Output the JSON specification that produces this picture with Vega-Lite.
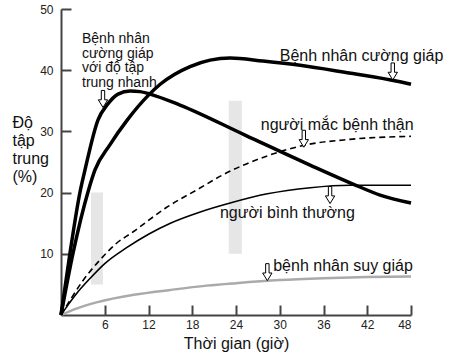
{
  "$schema": "https://vega.github.io/schema/vega-lite/v6.json",
  "width": 350,
  "height": 306,
  "autosize": "none",
  "padding": {"left": 61, "top": 9, "right": 46, "bottom": 45},
  "background": "white",
  "config": {
    "font": "Liberation Sans",
    "view": {"stroke": null},
    "axis": {"grid": false}
  },
  "datasets": {
    "curves": [
      {"series": "A", "t": 0, "v": 0},
      {"series": "A", "t": 1.23, "v": 10.1},
      {"series": "A", "t": 2.61, "v": 20.1},
      {"series": "A", "t": 3.29, "v": 23.7},
      {"series": "A", "t": 5.08, "v": 31.9},
      {"series": "A", "t": 6.31, "v": 34.3},
      {"series": "A", "t": 7.82, "v": 36.1},
      {"series": "A", "t": 9.47, "v": 36.6},
      {"series": "A", "t": 10.84, "v": 36.5},
      {"series": "A", "t": 12.21, "v": 36.1},
      {"series": "A", "t": 16.32, "v": 34.3},
      {"series": "A", "t": 25.24, "v": 29.4},
      {"series": "A", "t": 34.16, "v": 24.5},
      {"series": "A", "t": 40.05, "v": 21.4},
      {"series": "A", "t": 43.76, "v": 19.6},
      {"series": "A", "t": 48, "v": 18.3},
      {"series": "B", "t": 0, "v": 0},
      {"series": "B", "t": 1.65, "v": 10.1},
      {"series": "B", "t": 3.7, "v": 20.1},
      {"series": "B", "t": 4.66, "v": 23.7},
      {"series": "B", "t": 6.7, "v": 27.8},
      {"series": "B", "t": 9.05, "v": 31.8},
      {"series": "B", "t": 11.9, "v": 35.8},
      {"series": "B", "t": 13.6, "v": 37.7},
      {"series": "B", "t": 17.7, "v": 40.6},
      {"series": "B", "t": 23.2, "v": 42.0},
      {"series": "B", "t": 27.7, "v": 41.5},
      {"series": "B", "t": 32.8, "v": 40.8},
      {"series": "B", "t": 38.7, "v": 39.7},
      {"series": "B", "t": 46.5, "v": 38.1},
      {"series": "B", "t": 48, "v": 37.7},
      {"series": "C", "t": 0, "v": 0},
      {"series": "C", "t": 1.5, "v": 2.9},
      {"series": "C", "t": 3.0, "v": 5.6},
      {"series": "C", "t": 5.35, "v": 9.0},
      {"series": "C", "t": 7.5, "v": 11.6},
      {"series": "C", "t": 9.9, "v": 13.6},
      {"series": "C", "t": 14.5, "v": 17.6},
      {"series": "C", "t": 19.0, "v": 20.7},
      {"series": "C", "t": 22.2, "v": 22.9},
      {"series": "C", "t": 28.3, "v": 26.0},
      {"series": "C", "t": 33.2, "v": 27.7},
      {"series": "C", "t": 39.6, "v": 28.7},
      {"series": "C", "t": 48, "v": 29.2},
      {"series": "D", "t": 0, "v": 0},
      {"series": "D", "t": 1.0, "v": 1.7},
      {"series": "D", "t": 2.2, "v": 3.6},
      {"series": "D", "t": 4.0, "v": 6.0},
      {"series": "D", "t": 6.0, "v": 8.4},
      {"series": "D", "t": 9.0, "v": 11.0},
      {"series": "D", "t": 12.0, "v": 13.2},
      {"series": "D", "t": 15.0, "v": 15.0},
      {"series": "D", "t": 19.0, "v": 16.8},
      {"series": "D", "t": 23.2, "v": 18.3},
      {"series": "D", "t": 28.3, "v": 19.8},
      {"series": "D", "t": 34.2, "v": 20.8},
      {"series": "D", "t": 39.6, "v": 21.2},
      {"series": "D", "t": 48, "v": 21.2},
      {"series": "E", "t": 0, "v": 0},
      {"series": "E", "t": 2, "v": 1.0},
      {"series": "E", "t": 5, "v": 2.1},
      {"series": "E", "t": 10, "v": 3.3},
      {"series": "E", "t": 15, "v": 4.1},
      {"series": "E", "t": 20, "v": 4.8},
      {"series": "E", "t": 24, "v": 5.2},
      {"series": "E", "t": 30, "v": 5.7},
      {"series": "E", "t": 36, "v": 6.0},
      {"series": "E", "t": 42, "v": 6.2},
      {"series": "E", "t": 48, "v": 6.3}
    ],
    "bands": [
      {"t1": 4.1, "t2": 5.76, "v1": 5, "v2": 20},
      {"t1": 23.0, "t2": 24.8, "v1": 10, "v2": 35}
    ],
    "arrows": [
      {"t": 5.76, "v": 35.3},
      {"t": 45.5, "v": 39.8},
      {"t": 33.3, "v": 28.8},
      {"t": 36.9, "v": 19.6},
      {"t": 28.3, "v": 7.0}
    ],
    "labels": [
      {"t": 30.0, "v": 42.3, "txt": "Bệnh nhân cường giáp"},
      {"t": 27.4, "v": 31.0, "txt": "người mắc bệnh thận"},
      {"t": 21.8, "v": 16.7, "txt": "người bình thường"},
      {"t": 29.1, "v": 8.0, "txt": "bệnh nhân suy giáp"}
    ],
    "note": [
      {"t": 2.88, "v": 46.2, "txt": "Bệnh nhân\ncường giáp\nvới độ tập\ntrung nhanh"}
    ]
  },
  "layer": [
    {
      "data": {"name": "bands"},
      "mark": {"type": "rect", "color": "#e6e6e6"},
      "encoding": {
        "x": {"field": "t1", "type": "quantitative", "scale": {"domain": [0, 48], "nice": false},
          "axis": {
            "values": [6, 12, 18, 24, 30, 36, 42, 48],
            "tickSize": -10, "tickWidth": 2, "tickColor": "#444",
            "domainColor": "#444", "domainWidth": 2,
            "labelFontSize": 12, "labelColor": "#222", "labelPadding": 14,
            "title": "Thời gian (giờ)", "titleFontSize": 16, "titleFontWeight": "normal",
            "titleColor": "#111", "titleBaseline": "alphabetic", "titleY": 33
          }},
        "x2": {"field": "t2"},
        "y": {"field": "v1", "type": "quantitative", "scale": {"domain": [0, 50], "nice": false},
          "axis": {
            "values": [10, 20, 30, 40, 50],
            "tickSize": -10, "tickWidth": 2, "tickColor": "#444",
            "domainColor": "#444", "domainWidth": 2,
            "labelFontSize": 12, "labelColor": "#222", "labelPadding": 18,
            "title": ["Độ", "tập", "trung", "(%)"], "titleFontSize": 16, "titleFontWeight": "normal",
            "titleColor": "#111", "titleAngle": 0, "titleAlign": "left", "titleBaseline": "alphabetic",
            "titleX": -49, "titleY": 118, "titleLineHeight": 18
          }},
        "y2": {"field": "v2"}
      }
    },
    {
      "data": {"name": "curves"},
      "transform": [{"filter": "datum.series === 'E'"}],
      "mark": {"type": "line", "interpolate": "monotone", "color": "#aaaaaa", "strokeWidth": 2.5},
      "encoding": {
        "x": {"field": "t", "type": "quantitative"},
        "y": {"field": "v", "type": "quantitative"}
      }
    },
    {
      "data": {"name": "curves"},
      "transform": [{"filter": "datum.series === 'D'"}],
      "mark": {"type": "line", "interpolate": "monotone", "color": "#000000", "strokeWidth": 1.6},
      "encoding": {
        "x": {"field": "t", "type": "quantitative"},
        "y": {"field": "v", "type": "quantitative"}
      }
    },
    {
      "data": {"name": "curves"},
      "transform": [{"filter": "datum.series === 'C'"}],
      "mark": {"type": "line", "interpolate": "monotone", "color": "#000000", "strokeWidth": 1.6, "strokeDash": [6, 4]},
      "encoding": {
        "x": {"field": "t", "type": "quantitative"},
        "y": {"field": "v", "type": "quantitative"}
      }
    },
    {
      "data": {"name": "curves"},
      "transform": [{"filter": "datum.series === 'A' || datum.series === 'B'"}],
      "mark": {"type": "line", "interpolate": "monotone", "color": "#000000", "strokeWidth": 3.5},
      "encoding": {
        "x": {"field": "t", "type": "quantitative"},
        "y": {"field": "v", "type": "quantitative"},
        "detail": {"field": "series"}
      }
    },
    {
      "data": {"name": "arrows"},
      "mark": {"type": "point", "filled": true, "fill": "white", "stroke": "#000", "strokeWidth": 1, "opacity": 1, "size": 289,
        "shape": "M-0.2,-1L0.2,-1L0.2,0.1L0.55,0.1L0,1L-0.55,0.1L-0.2,0.1Z"},
      "encoding": {
        "x": {"field": "t", "type": "quantitative"},
        "y": {"field": "v", "type": "quantitative"}
      }
    },
    {
      "data": {"name": "labels"},
      "mark": {"type": "text", "align": "left", "baseline": "middle", "fontSize": 16, "color": "#111"},
      "encoding": {
        "x": {"field": "t", "type": "quantitative"},
        "y": {"field": "v", "type": "quantitative"},
        "text": {"field": "txt"}
      }
    },
    {
      "data": {"name": "note"},
      "mark": {"type": "text", "align": "left", "baseline": "top", "fontSize": 14, "lineHeight": 14.5, "lineBreak": "\n", "color": "#111"},
      "encoding": {
        "x": {"field": "t", "type": "quantitative"},
        "y": {"field": "v", "type": "quantitative"},
        "text": {"field": "txt"}
      }
    }
  ]
}
